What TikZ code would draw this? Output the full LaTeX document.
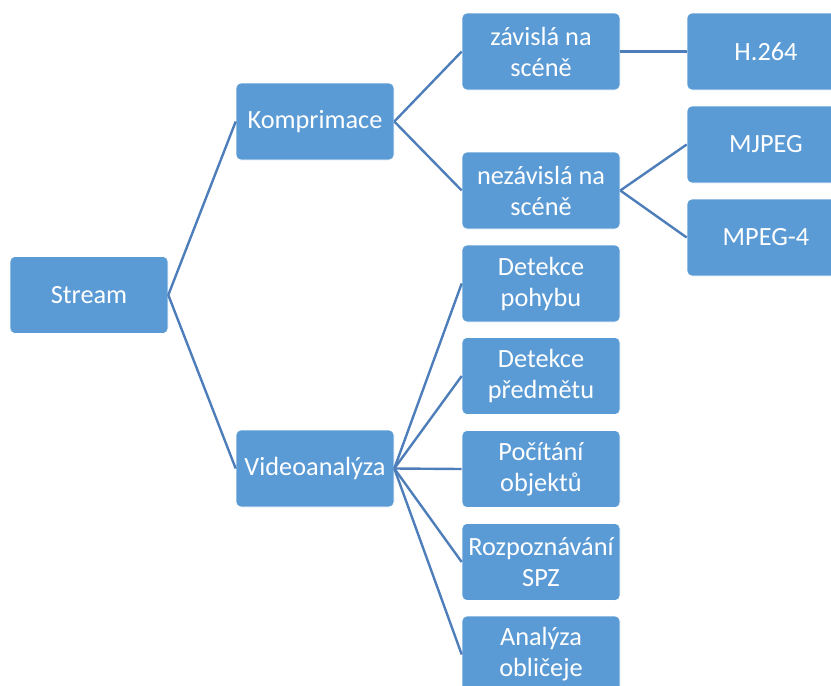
\documentclass[tikz,border=0pt]{standalone}
\usepackage{fontspec}
\setmainfont{Carlito}
\definecolor{boxblue}{RGB}{91,155,213}
\definecolor{linkblue}{RGB}{78,126,186}
\begin{document}
\begin{tikzpicture}[x=1pt,y=-1pt,
  item/.style={rectangle, rounded corners=5pt, fill=boxblue, draw=white, line width=0.6pt,
    minimum width=158pt, minimum height=77pt, inner sep=2pt, align=center,
    text=white, font=\fontsize{26.3}{31}\selectfont},
  link/.style={draw=linkblue, line width=2.4pt}]
\useasboundingbox (0,0) rectangle (831,686);
\clip (0,0) rectangle (831,686);
% tree nodes
\node[item] (stream) at (89,295) {Stream};
\node[item] (komp) at (315,121.5) {Komprimace};
\node[item] (video) at (315,468.5) {Videoanalýza};
\node[item] (zav) at (541,51.5) {závislá na\\scéně};
\node[item] (nezav) at (541,190.5) {nezávislá na\\scéně};
\node[item] (h264) at (766,51.5) {H.264};
\node[item] (mjpeg) at (766,144.5) {MJPEG};
\node[item] (mpeg4) at (766,237.5) {MPEG-4};
\node[item] (pohyb) at (541,283.5) {Detekce\\pohybu};
\node[item] (predmet) at (541,376) {Detekce\\předmětu};
\node[item] (pocitani) at (541,469) {Počítání\\objektů};
\node[item] (spz) at (541,562) {Rozpoznávání\\SPZ};
\node[item] (oblicej) at (541,654.5) {Analýza\\obličeje};
% connectors
\draw[link] (stream.east) -- (komp.west);
\draw[link] (stream.east) -- (video.west);
\draw[link] (komp.east) -- (zav.west);
\draw[link] (komp.east) -- (nezav.west);
\draw[link] (zav.east) -- (h264.west);
\draw[link] (nezav.east) -- (mjpeg.west);
\draw[link] (nezav.east) -- (mpeg4.west);
\foreach \t in {pohyb,predmet,pocitani,spz,oblicej}
  \draw[link] (video.east) -- (\t.west);
\end{tikzpicture}
\end{document}
